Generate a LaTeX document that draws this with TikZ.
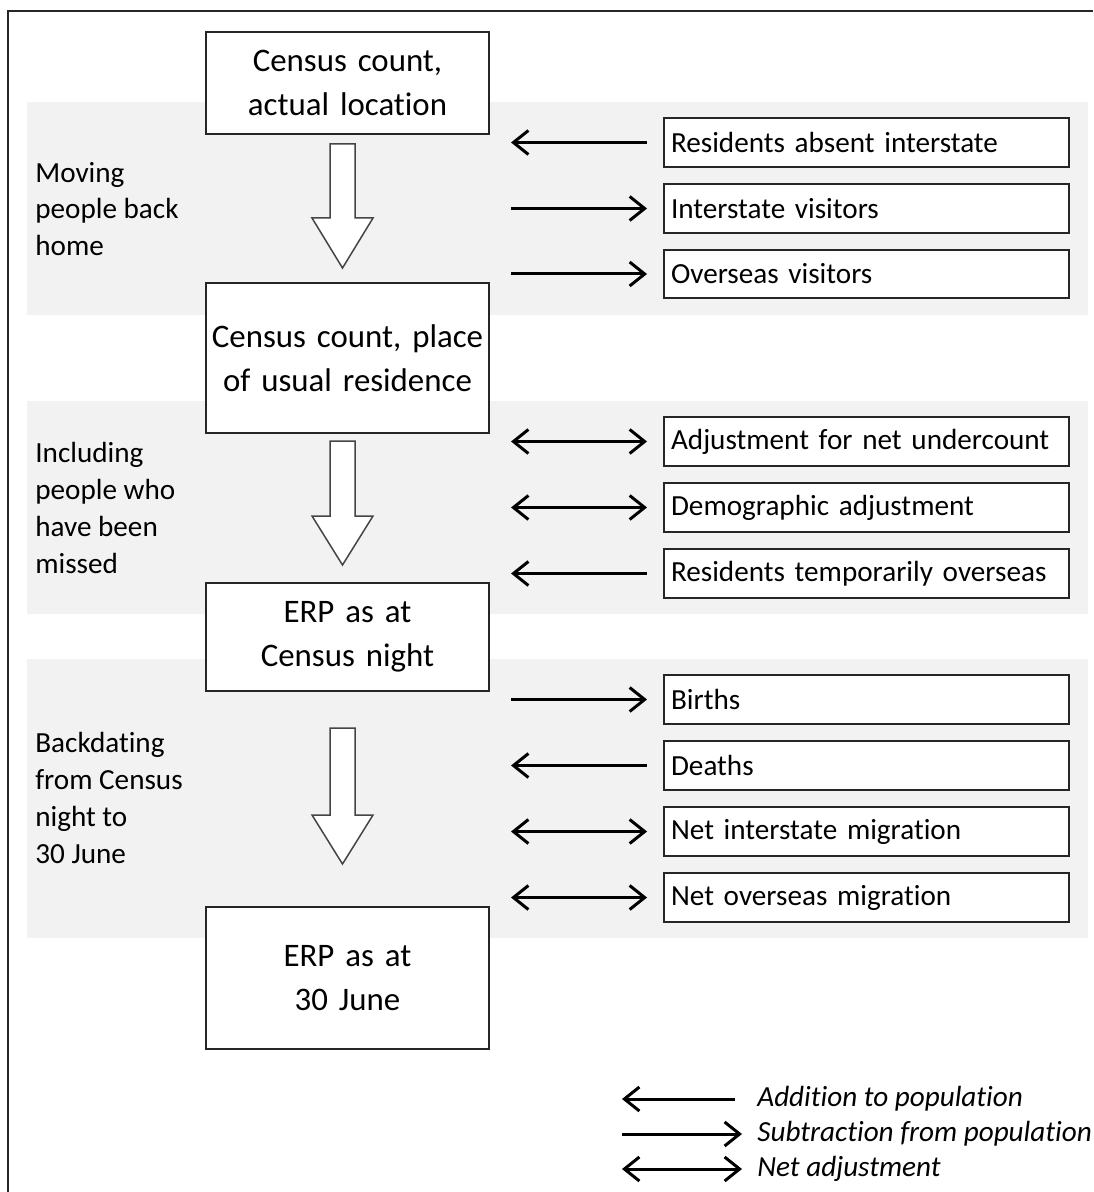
\documentclass[tikz,border=0pt]{standalone}
\usepackage{fontspec}
\setmainfont{Carlito}[Ligatures={NoCommon}]
\usetikzlibrary{arrows.meta}
\definecolor{cBand}{HTML}{F2F2F2}
\definecolor{cEdge}{HTML}{262626}
\definecolor{cBlock}{HTML}{454545}

\begin{document}
\begin{tikzpicture}[
  x=0.02cm, y=-0.02cm,
  >={Straight Barb[length=0.3cm, width=0.48cm]},
  bigbox/.style={draw=cEdge, fill=white, line width=0.04cm,
                 minimum width=5.66cm, text width=5.56cm, inner xsep=0.05cm,
                 minimum height=#1,
                 align=center, font=\fontsize{18.7}{25}\selectfont},
  smallbox/.style={draw=cEdge, fill=white, line width=0.04cm,
                   minimum width=8.1cm, text width=7.82cm, inner xsep=0.14cm,
                   minimum height=0.98cm, align=left,
                   font=\fontsize{16.6}{20}\selectfont},
  side/.style={anchor=west, align=left, inner sep=0pt,
               font=\fontsize{16.6}{21}\selectfont},
  legtxt/.style={anchor=west, inner sep=0pt,
                 font=\fontsize{16.6}{20}\selectfont\itshape},
  band/.style={fill=cBand},
  arr/.style={line width=0.06cm, shorten >=0.32cm},
  blockarr/.style={draw=cBlock, fill=white, line width=0.03cm},
]
\useasboundingbox (0,0) rectangle (1093,1192);

% ---- frame and shaded bands ----
\draw[line width=0.04cm, cEdge] (8,1192) |- (1093,11);
\fill[band] (27,102) rectangle (1088,315);
\fill[band] (27,401) rectangle (1088,614);
\fill[band] (27,659) rectangle (1088,938);

% ---- main column ----
\node[bigbox=2.04cm] (actual) at (347.5,83) {Census count,\\actual location};
\node[bigbox=3.0cm] (usual) at (347.5,358) {Census count, place\\of usual residence};
\node[bigbox=2.16cm] (erpnight) at (347.5,637) {ERP as at\\Census night};
\node[bigbox=2.84cm] (erpjune) at (347.5,978) {ERP as at\\30 June};

% block arrows between the main boxes
\foreach \t/\h/\b in {144/218/268, 441/516/565, 728/815/864}
  \draw[blockarr] (330,\t) -- (355,\t) -- (355,\h) -- (373,\h)
    -- (342.5,\b) -- (312,\h) -- (330,\h) -- cycle;

% ---- stage labels ----
\node[side] (moving) at (35,209) {Moving\\people back\\home};
\node[side] (including) at (35,508) {Including\\people who\\have been\\missed};
\node[side] (backdating) at (35,798) {Backdating\\from Census\\night to\\30 June};

% ---- components ----
\node[smallbox] (absent) at (866.5,142.5) {Residents absent interstate};
\node[smallbox] (isvis) at (866.5,208.5) {Interstate visitors};
\node[smallbox] (osvis) at (866.5,274) {Overseas visitors};

\node[smallbox] (undercount) at (866.5,441.5) {Adjustment for net undercount};
\node[smallbox] (demog) at (866.5,507.5) {Demographic adjustment};
\node[smallbox] (tempos) at (866.5,573.5) {Residents temporarily overseas};

\node[smallbox] (births) at (866.5,699.5) {Births};
\node[smallbox] (deaths) at (866.5,765.5) {Deaths};
\node[smallbox] (nim) at (866.5,831.5) {Net interstate migration};
\node[smallbox] (nom) at (866.5,897.5) {Net overseas migration};

% ---- adjustment arrows ----
\coordinate (lane) at (511,0);
\draw[arr, <-] (absent.west -| lane) -- (absent.west);
\draw[arr, ->] (isvis.west -| lane) -- (isvis.west);
\draw[arr, ->] (osvis.west -| lane) -- (osvis.west);
\draw[arr, <->] (undercount.west -| lane) -- (undercount.west);
\draw[arr, <->] (demog.west -| lane) -- (demog.west);
\draw[arr, <-] (tempos.west -| lane) -- (tempos.west);
\draw[arr, ->] (births.west -| lane) -- (births.west);
\draw[arr, <-] (deaths.west -| lane) -- (deaths.west);
\draw[arr, <->] (nim.west -| lane) -- (nim.west);
\draw[arr, <->] (nom.west -| lane) -- (nom.west);

% ---- legend ----
\node[legtxt] (addition) at (757,1099) {Addition to population};
\node[legtxt] (subtraction) at (757,1134) {Subtraction from population};
\node[legtxt] (netadj) at (757,1169) {Net adjustment};
\coordinate (leg) at (622,0);
\draw[arr, <-, shorten >=0.44cm] (addition.west -| leg) -- (addition.west);
\draw[arr, ->, shorten >=0.3cm] (subtraction.west -| leg) -- (subtraction.west);
\draw[arr, <->, shorten >=0.3cm] (netadj.west -| leg) -- (netadj.west);

\end{tikzpicture}
\end{document}
